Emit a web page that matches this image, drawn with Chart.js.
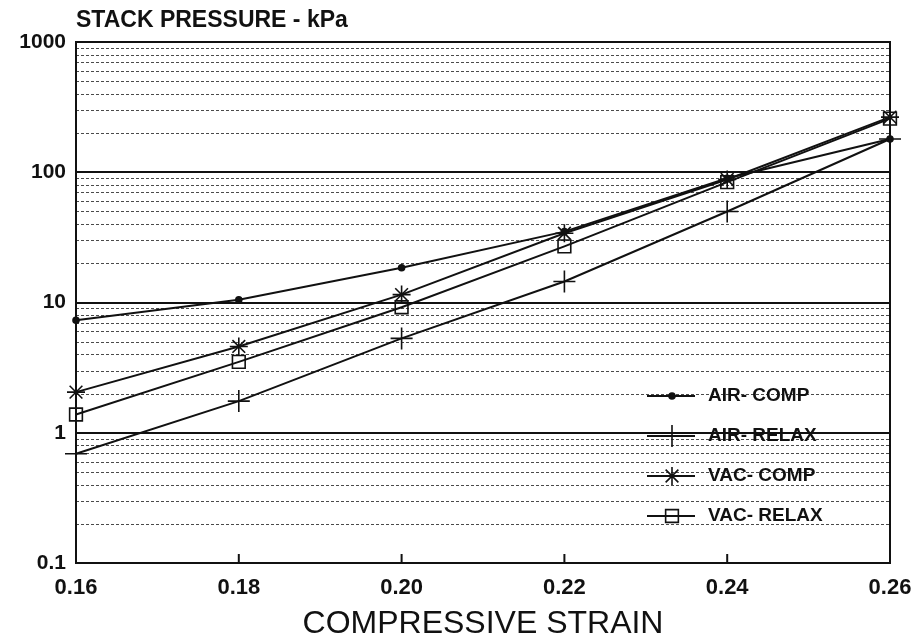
<!DOCTYPE html>
<html>
<head>
<meta charset="utf-8">
<script src="https://cdn.jsdelivr.net/npm/chart.js@4/dist/chart.umd.min.js"></script>
<style>
  html, body { margin: 0; padding: 0; background: #fff; }
  #wrap { width: 921px; height: 644px; }
</style>
</head>
<body>
<div id="wrap"><canvas id="strainChart" width="921" height="644"></canvas></div>
<script>
// compressive strain values (x)
const strain = [0.16, 0.18, 0.20, 0.22, 0.24, 0.26];

// stack pressure, kPa
const airComp  = [7.3, 10.5, 18.5, 35, 90, 180];
const airRelax = [0.69, 1.75, 5.3, 14.5, 50, 180];
const vacComp  = [2.05, 4.6, 11.5, 34, 88, 265];
const vacRelax = [1.38, 3.5, 9.2, 27, 84, 258];

const seriesNames = ["AIR- COMP", "AIR- RELAX", "VAC- COMP", "VAC- RELAX"];

const xTicks = [0.16, 0.18, 0.20, 0.22, 0.24, 0.26];
const yTicks = [0.1, 1, 10, 100, 1000];
const yTickLabels = ["0.1", "1", "10", "100", "1000"];
const minorSteps = [2, 3, 4, 5, 6, 7, 8, 9];

const FONT = "'Liberation Sans', Arial, Helvetica, sans-serif";

function toPoints(values) {
    return strain.map((s, i) => ({ x: s, y: values[i] }));
}

const markers = [
    { pointStyle: 'circle', pointRadius: 3, pointBackgroundColor: '#111' },
    { pointStyle: 'cross', pointRadius: 11, pointBackgroundColor: 'transparent' },
    { pointStyle: 'star', pointRadius: 9, pointBackgroundColor: 'transparent' },
    { pointStyle: 'rect', pointRadius: 9, pointBackgroundColor: 'transparent' }
];

const allSeries = [airComp, airRelax, vacComp, vacRelax];

const datasets = allSeries.map((vals, i) => Object.assign({
    label: seriesNames[i],
    data: toPoints(vals),
    borderColor: '#111',
    borderWidth: 2,
    pointBorderColor: '#111',
    pointBorderWidth: 1.6,
    tension: 0,
    fill: false,
    clip: false
}, markers[i]));

// minor log grid, frame, inner ticks, title and legend
const paperPlugin = {
    id: 'paper',
    beforeDatasetsDraw(chart) {
        const { ctx, chartArea } = chart;
        const y = chart.scales.y;
        const x = chart.scales.x;
        ctx.save();
        ctx.strokeStyle = '#4a4a4a';
        ctx.lineWidth = 1;
        ctx.setLineDash([3, 2]);
        for (let d = 0; d < yTicks.length - 1; d++) {
            minorSteps.forEach(m => {
                const py = Math.round(y.getPixelForValue(yTicks[d] * m)) + 0.5;
                ctx.beginPath();
                ctx.moveTo(chartArea.left, py);
                ctx.lineTo(chartArea.right, py);
                ctx.stroke();
            });
        }
        ctx.setLineDash([]);
        ctx.strokeStyle = '#111';
        ctx.lineWidth = 2;
        xTicks.slice(1, -1).forEach(v => {
            const px = x.getPixelForValue(v);
            ctx.beginPath();
            ctx.moveTo(px, chartArea.bottom);
            ctx.lineTo(px, chartArea.bottom - 9);
            ctx.stroke();
        });
        ctx.strokeRect(chartArea.left, chartArea.top, chartArea.right - chartArea.left, chartArea.bottom - chartArea.top);
        ctx.restore();
    },
    afterDraw(chart) {
        const { ctx, chartArea } = chart;
        ctx.save();
        ctx.fillStyle = '#111';
        ctx.font = "bold 23px " + FONT;
        ctx.textBaseline = 'middle';
        ctx.textAlign = 'left';
        ctx.fillText("STACK PRESSURE - kPa", chartArea.left, 21);

        const lx = chartArea.right - 243;
        const ly = 396;
        ctx.font = "bold 19px " + FONT;
        seriesNames.forEach((name, i) => {
            const cy = ly + i * 40;
            ctx.strokeStyle = '#111';
            ctx.lineWidth = 2;
            ctx.beginPath();
            ctx.moveTo(lx, cy);
            ctx.lineTo(lx + 48, cy);
            ctx.stroke();
            ctx.lineWidth = 1.6;
            ctx.fillStyle = markers[i].pointBackgroundColor;
            Chart.helpers.drawPoint(ctx, {
                pointStyle: markers[i].pointStyle,
                radius: markers[i].pointRadius,
                rotation: 0,
                borderWidth: 1.6
            }, lx + 25, cy);
            ctx.fillStyle = '#111';
            ctx.fillText(name, lx + 61, cy);
        });
        ctx.restore();
    }
};

new Chart(document.getElementById('strainChart'), {
    type: 'line',
    data: { datasets },
    options: {
        responsive: false,
        animation: false,
        layout: { padding: { top: 42, right: 31, left: 0, bottom: 0 } },
        plugins: {
            legend: { display: false },
            tooltip: { enabled: false }
        },
        scales: {
            x: {
                type: 'linear',
                min: 0.16,
                max: 0.26,
                afterBuildTicks: scale => { scale.ticks = xTicks.map(v => ({ value: v })); },
                afterFit: scale => {
                    scale.height = 81;
                    scale.paddingLeft = 0;
                    scale.paddingRight = 0;
                },
                grid: { display: false, drawTicks: false },
                border: { display: false },
                ticks: {
                    padding: 12,
                    color: '#111',
                    font: { family: FONT, size: 22, weight: 'bold' },
                    callback: v => v.toFixed(2)
                },
                title: {
                    display: true,
                    text: "COMPRESSIVE STRAIN",
                    color: '#111',
                    font: { family: FONT, size: 32 },
                    padding: { top: 0, bottom: 1 }
                }
            },
            y: {
                type: 'logarithmic',
                min: 0.1,
                max: 1000,
                afterBuildTicks: scale => { scale.ticks = yTicks.map(v => ({ value: v })); },
                afterFit: scale => { scale.width = 76; },
                grid: { color: '#111', lineWidth: 2, drawTicks: false },
                border: { display: false },
                ticks: {
                    padding: 10,
                    color: '#111',
                    font: { family: FONT, size: 21, weight: 'bold' },
                    callback: v => {
                        const k = yTicks.indexOf(v);
                        return k >= 0 ? yTickLabels[k] : '';
                    }
                }
            }
        }
    },
    plugins: [paperPlugin]
});
</script>
</body>
</html>
